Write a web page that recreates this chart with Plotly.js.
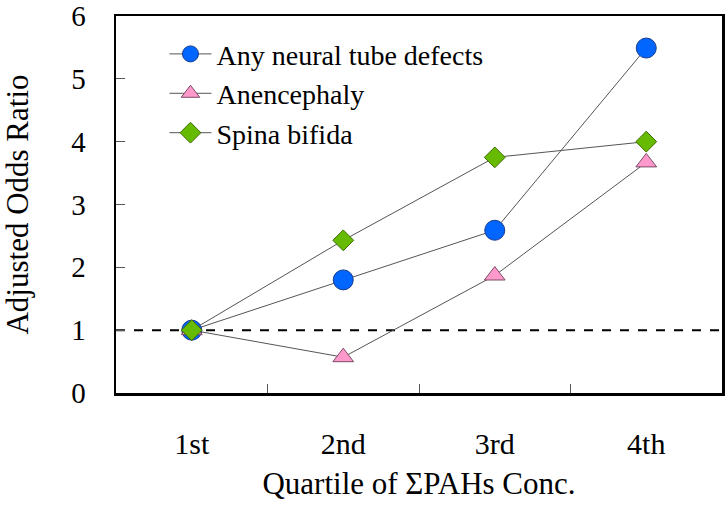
<!DOCTYPE html>
<html>
<head>
<meta charset="utf-8">
<script src="https://cdn.plot.ly/plotly-3.0.1.min.js"></script>
<style>html,body{margin:0;padding:0;background:#fff;}#chart{width:728px;height:506px;}
#chart text{font-family:"Liberation Serif","Times New Roman",serif !important;}</style>
</head>
<body>
<div id="chart"></div>
<script>
const categories = ["1st", "2nd", "3rd", "4th"];
const anyNTD = [1.0, 1.80, 2.59, 5.49];
const anencephaly = [1.0, 0.57, 1.87, 3.67];
const spinaBifida = [1.0, 2.43, 3.75, 4.0];
const seriesNames = ["Any neural tube defects", "Anencephaly", "Spina bifida"];
const yTicks = [0, 1, 2, 3, 4, 5, 6];
const refValue = 1;

const font = "Liberation Serif";
const lineStyle = {color: "#555555", width: 1};

const traces = [
  {x: categories, y: anyNTD, name: seriesNames[0], mode: "lines+markers", line: lineStyle,
   marker: {symbol: "circle", size: 20, color: "#0066FF", line: {color: "#1a3b8c", width: 1}}},
  {x: categories, y: anencephaly, name: seriesNames[1], mode: "lines+markers", line: lineStyle,
   marker: {symbol: "triangle-up", size: 18, color: "#FF99CC", line: {color: "#7a4a66", width: 1}}},
  {x: categories, y: spinaBifida, name: seriesNames[2], mode: "lines+markers", line: lineStyle,
   marker: {symbol: "diamond", size: 16, color: "#66BB00", line: {color: "#3d6b00", width: 1}}}
];

const layout = {
  width: 728, height: 506,
  margin: {l: 116, r: 6, t: 16, b: 113},
  paper_bgcolor: "#ffffff", plot_bgcolor: "#ffffff",
  font: {family: font, color: "#000000", size: 28},
  showlegend: true,
  legend: {x: 0.08, y: 0.965, xanchor: "left", yanchor: "top", bgcolor: "rgba(0,0,0,0)",
           font: {family: font, size: 28, color: "#000"}, tracegroupgap: 0, itemwidth: 42},
  xaxis: {
    type: "category", range: [-0.5, 3.5],
    showline: true, linecolor: "#000", linewidth: 2.5, mirror: true,
    ticks: "inside", ticklen: 9, tickcolor: "#555", tickwidth: 1, tickson: "boundaries",
    showgrid: false, zeroline: false, ticklabelstandoff: 22,
    tickfont: {family: font, size: 30, color: "#000"},
    title: {text: "Quartile of ΣPAHs Conc.", font: {family: font, size: 31, color: "#000"}, standoff: 14}
  },
  yaxis: {
    range: [0, 6], tickvals: yTicks, ticklabeloverflow: "allow",
    showline: true, linecolor: "#000", linewidth: 2.5, mirror: true,
    ticks: "inside", ticklen: 9, tickcolor: "#555", tickwidth: 1,
    showgrid: false, zeroline: false, ticklabelstandoff: 22,
    tickfont: {family: font, size: 29, color: "#000"},
    title: {text: "Adjusted Odds Ratio", font: {family: font, size: 31, color: "#000"}, standoff: 46}
  },
  shapes: [{type: "line", xref: "paper", x0: 0, x1: 1, yref: "y", y0: refValue, y1: refValue,
            line: {color: "#000", width: 2, dash: "dash"}, layer: "below"}]
};

Plotly.newPlot("chart", traces, layout, {displayModeBar: false, staticPlot: true});
</script>
</body>
</html>
